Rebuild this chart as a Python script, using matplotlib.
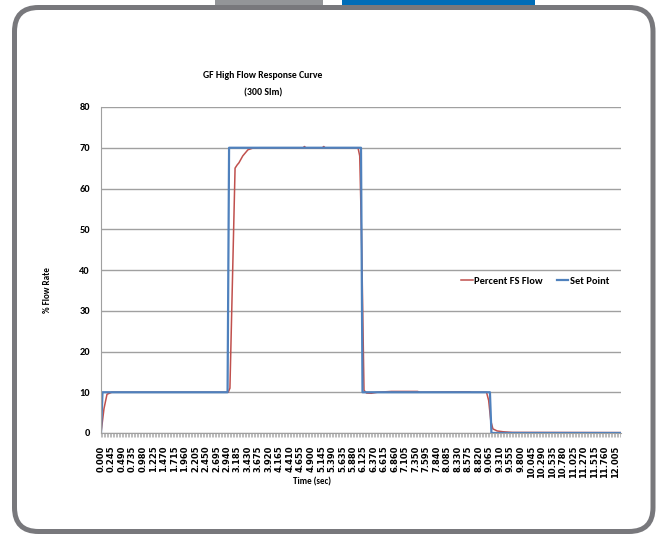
import matplotlib.pyplot as plt
import numpy as np
from matplotlib.patches import FancyBboxPatch, Rectangle

plt.rcParams["font.family"] = ["Carlito", "DejaVu Sans"]
plt.rcParams["font.weight"] = "bold"

# readings (time in s, value in % flow)
sp_time = [0.0, 0.035, 2.955, 2.99, 6.07, 6.105, 9.08, 9.115, 12.14]
sp_value = [0.0, 10.0, 10.0, 70.0, 70.0, 10.0, 10.0, 0.0, 0.0]

flow_time = [0.0, 0.07, 0.14, 0.25, 2.97, 3.01, 3.13, 3.18, 3.22, 3.31, 3.43,
             3.54, 3.7, 4.72, 4.75, 4.78, 5.17, 5.2, 5.23, 6.0, 6.04, 6.08,
             6.14, 6.2, 6.31, 6.45, 6.78, 7.39, 7.45, 8.38, 8.61, 8.65, 9.0,
             9.05, 9.1, 9.15, 9.25, 9.39, 9.6, 12.14]
flow_value = [0.0, 6.0, 9.5, 10.0, 10.0, 11.0, 65.0, 65.8, 66.3, 68.0, 69.5,
              69.9, 70.0, 70.0, 70.3, 70.0, 70.0, 70.3, 70.0, 70.0, 68.0, 49.8,
              10.5, 9.8, 9.75, 10.0, 10.2, 10.2, 10.0, 10.1, 10.1, 10.0, 10.0,
              8.0, 3.0, 1.0, 0.5, 0.3, 0.15, 0.1]

tick_pos = np.arange(0, 12.006, 0.245)
tick_labels = ["{:.3f}".format(t) for t in tick_pos]

fig = plt.figure(figsize=(6.57, 5.37), dpi=100)

# frame around the chart, in pixel coordinates
bg = fig.add_axes([0, 0, 1, 1], zorder=0)
bg.set_xlim(0, 657)
bg.set_ylim(537, 0)
bg.axis("off")
bg.add_patch(Rectangle((215, 0), 108, 5.5, color="#939598", lw=0))
bg.add_patch(Rectangle((342, 0), 193, 5.5, color="#006DB8", lw=0))
bg.add_patch(FancyBboxPatch((14.5, 7.5), 638.5, 524, boxstyle="round,pad=0,rounding_size=24",
                            fc="none", ec="#78787c", lw=3.6))

ax = fig.add_axes([101 / 657, 1 - 433 / 537, 520 / 657, 326 / 537], zorder=1)
ax.patch.set_alpha(0)
ax.plot(flow_time, flow_value, color="#C0504D", lw=1.1, label="Percent FS Flow")
ax.plot(sp_time, sp_value, color="#4F81BD", lw=1.6, label="Set Point")

ax.set_xlim(0, 12.14)
ax.set_ylim(0, 80)
ax.set_yticks(range(0, 81, 10))
ax.grid(axis="y", color="#a0a0a0", lw=1)
ax.set_axisbelow(True)
for s in ["top", "right"]:
    ax.spines[s].set_visible(False)
ax.spines["left"].set_color("#a0a0a0")
ax.spines["bottom"].set_color("#a0a0a0")
ax.tick_params(axis="y", length=0, pad=8, labelsize=7.5)
ax.set_xticks(tick_pos)
ax.set_xticklabels(tick_labels, rotation=90, fontsize=6, family="DejaVu Sans",
                   fontweight="bold")
ax.set_xticks(np.arange(0, 12.14, 0.035), minor=True)
ax.tick_params(axis="x", which="both", length=3, width=0.5, color="#a0a0a0", pad=6)

fig.text(263, 537 - 76, "GF High Flow Response Curve", transform=None, ha="center",
         va="center", fontsize=7)
fig.text(263, 537 - 93, "(300 Slm)", transform=None, ha="center", va="center", fontsize=7)
fig.text(312, 537 - 482, "Time (sec)", transform=None, ha="center", va="center", fontsize=6.5)
fig.text(47, 537 - 290, "% Flow Rate", transform=None, ha="center", va="center",
         fontsize=6.5, rotation=90)

ax.legend(loc="center", bbox_to_anchor=(0.835, 0.466), ncol=2, frameon=False,
          fontsize=7.5, handlelength=1.1, handletextpad=0.15, columnspacing=1.3,
          borderaxespad=0)

fig.savefig("out.png", dpi=100)
